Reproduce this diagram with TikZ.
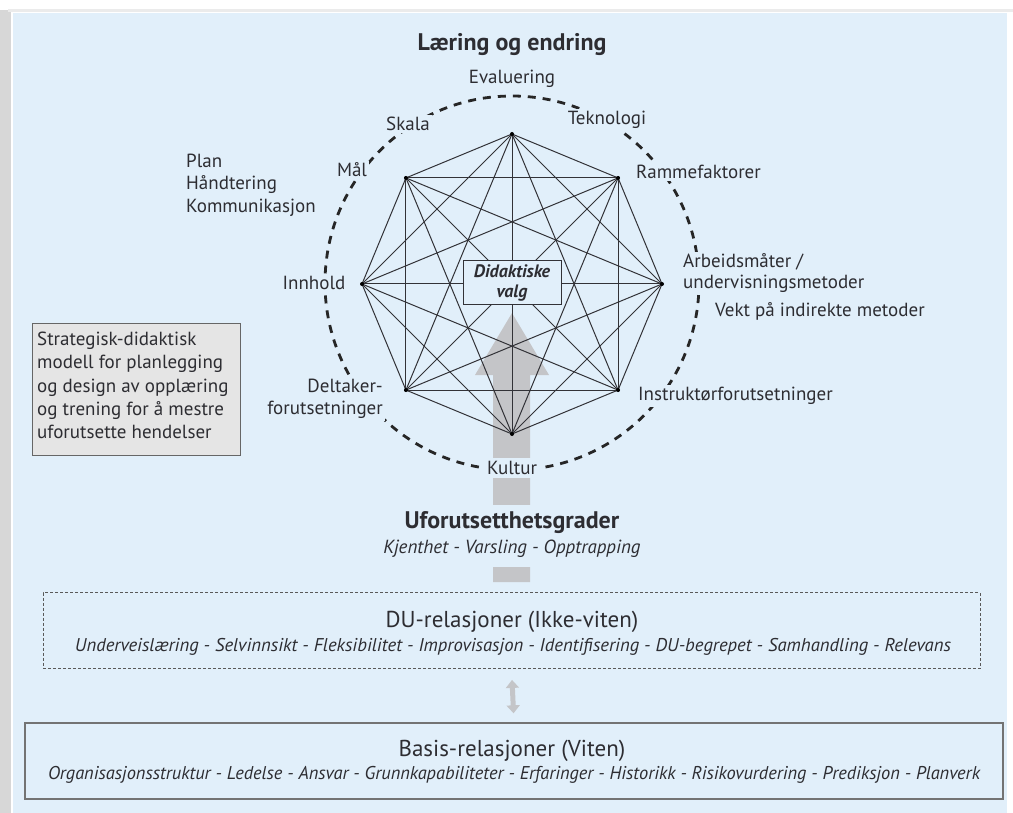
\documentclass[tikz,border=0pt]{standalone}
\usepackage{fontspec}
\setmainfont{PT Sans}
\usepackage{graphicx}
\usetikzlibrary{arrows.meta}
\definecolor{bg}{RGB}{225,239,250}
\definecolor{txt}{RGB}{45,45,50}
\definecolor{edge}{RGB}{50,50,55}
\definecolor{arrowgray}{RGB}{196,197,200}
\definecolor{boxgray}{RGB}{229,229,229}
\definecolor{shadow}{RGB}{215,215,215}
\newcommand{\fitw}[2]{\resizebox{#1}{\height}{#2}}
\tikzset{
  lbl/.style={text=txt, font=\fontsize{19}{22}\selectfont, inner sep=2pt},
  lblbg/.style={lbl, fill=bg},
  ring/.style={draw=black!85, line width=2.8pt, dash pattern=on 8pt off 7pt},
  graphline/.style={draw=edge, line width=1pt},
  boxtitle/.style={text=txt, font=\fontsize{23}{26}\selectfont},
  boxitems/.style={text=txt, font=\itshape\fontsize{18.5}{21}\selectfont},
}
\begin{document}
\begin{tikzpicture}[x=1pt,y=-1pt]
\useasboundingbox (0,0) rectangle (1013,813);
% page and panel
\fill[white] (0,0) rectangle (1013,813);
\fill[shadow] (0,10) rectangle (11,813);
\fill[black!8] (8,9) rectangle (1013,12);
\fill[bg] (13,13) rectangle (1007,813);

% big gray arrow (drawn behind everything)
\coordinate (aBL) at (493,582);
\coordinate (aBR) at (530,582);
\fill[arrowgray] (aBL) -- (493,375) -- (475,375) -- (512,313) -- (549,375) -- (530,375) -- (aBR) -- cycle;

% dashed ring
\draw[ring] (512,283) circle [radius=187pt];

% octagon vertices and complete graph
\foreach \i in {0,...,7}{
  \coordinate (v\i) at ({512+150*cos(90-45*\i)},{284-150*sin(90-45*\i)});
}
\foreach \i [evaluate=\i as \k using int(\i+1)] in {0,...,6}{
  \foreach \j in {\k,...,7}{
    \draw[graphline] (v\i) -- (v\j);
  }
}
\foreach \i in {0,...,7}{ \fill[black] (v\i) circle [radius=2pt]; }

% centre box
\node[draw=edge, line width=1pt, fill=bg, text=txt, font=\bfseries\itshape\fontsize{18}{20}\selectfont,
      align=center, minimum width=98pt, minimum height=44pt, inner sep=1pt] (dv) at (512,283) {Didaktiske\\valg};

% title
\node[text=txt, font=\bfseries\fontsize{24}{28}\selectfont] (title) at (512,45) {Læring og endring};

% ring labels
\node[lbl] (eval) at (512,79) {Evaluering};
\node[lblbg] (skala) at (408,124) {Skala};
\node[lblbg] (tek) at (607,120) {Teknologi};
\node[lblbg] (maal) at (352,170) {Mål};
\node[lbl, anchor=west] (plan) at (184,161) {Plan};
\node[lbl, anchor=west] (hand) at (184,185) {Håndtering};
\node[lbl, anchor=west] (komm) at (184,208) {Kommunikasjon};
\node[lblbg, anchor=west] (ramme) at (634,172) {Rammefaktorer};
\node[lblbg] (innhold) at (314,283) {Innhold};
\node[lblbg, anchor=west, align=left, font=\fontsize{19}{21}\selectfont] (arb) at (681,273) {Arbeidsmåter /\\undervisningsmetoder};
\node[lbl, anchor=west] (vekt) at (713,311) {Vekt på indirekte metoder};
\node[lblbg, align=right, font=\fontsize{19}{22}\selectfont, anchor=east] (delt) at (385,399) {Deltaker-\\forutsetninger};
\node[lblbg, anchor=west] (instr) at (636,396) {Instruktørforutsetninger};
\node[lblbg, inner ysep=3pt] (kultur) at (512,468) {Kultur};

% uforutsetthetsgrader
\fill[bg] (480,505) rectangle (545,567);
\node[text=txt, font=\bfseries\fontsize{24}{28}\selectfont] (ufo) at (512,523) {Uforutsetthetsgrader};
\node[text=txt, font=\itshape\fontsize{19}{23}\selectfont] (ufosub) at (512,549) {Kjenthet - Varsling - Opptrapping};

% left info box
\node[draw=black!60, line width=1pt, fill=boxgray, minimum width=208pt, minimum height=132pt, anchor=north west] (info) at (32,323) {};
\node[text=txt, font=\fontsize{19}{23.2}\selectfont, align=left, anchor=north west, inner sep=0pt] (infotext) at (37,332)
  {Strategisk-didaktisk\\modell for planlegging\\og design av opplæring\\og trening for å mestre\\uforutsette hendelser};

% DU box
\node[draw=black!65, line width=0.9pt, dash pattern=on 3pt off 2pt, minimum width=937pt, minimum height=76pt] (du) at (511.5,630.5) {};
\node[boxtitle] (dutitle) at (512,622) {DU-relasjoner (Ikke-viten)};
\node[boxitems] (duitems) at (513,647) {\fitw{876pt}{Underveislæring - Selvinnsikt - Fleksibilitet - Improvisasjon - Identifisering - DU-begrepet - Samhandling - Relevans}};

% Basis box
\node[draw=black!55, line width=1.4pt, minimum width=978pt, minimum height=76pt] (basis) at (514,761) {};
\node[boxtitle] (btitle) at (512,751) {Basis-relasjoner (Viten)};
\node[boxitems] (bitems) at (514,775) {\fitw{932pt}{Organisasjonsstruktur - Ledelse - Ansvar - Grunnkapabiliteter - Erfaringer - Historikk - Risikovurdering - Prediksjon - Planverk}};

% double arrow between boxes
\draw[arrowgray, line width=5pt, {Triangle[width=13pt,length=8pt]}-{Triangle[width=13pt,length=8pt]}, shorten <=11pt, shorten >=9pt] (du.south) -- (basis.north);
\end{tikzpicture}
\end{document}
